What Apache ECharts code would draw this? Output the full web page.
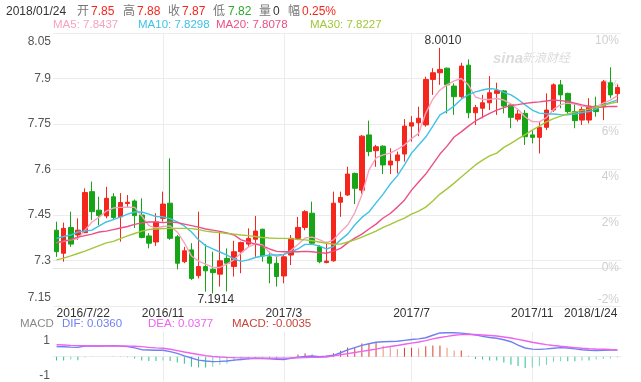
<!DOCTYPE html>
<html><head><meta charset="utf-8">
<script src="https://cdn.jsdelivr.net/npm/echarts@6/dist/echarts.min.js"></script>
<style>html,body{margin:0;padding:0;background:#fff}#c{width:641px;height:382px}</style>
</head><body><div id="c"></div>
<script>
const dates = [
'2016-07-22','2016-07-29','2016-08-05','2016-08-12','2016-08-19','2016-08-26','2016-09-02','2016-09-09','2016-09-16','2016-09-23',
'2016-09-30','2016-10-07','2016-10-14','2016-10-21','2016-10-28','2016-11-04','2016-11-11','2016-11-18','2016-11-25','2016-12-02',
'2016-12-09','2016-12-16','2016-12-23','2016-12-30','2017-01-06','2017-01-13','2017-01-20','2017-01-27','2017-02-03','2017-02-10',
'2017-02-17','2017-02-24','2017-03-03','2017-03-10','2017-03-17','2017-03-24','2017-03-31','2017-04-07','2017-04-14','2017-04-21',
'2017-04-28','2017-05-05','2017-05-12','2017-05-19','2017-05-26','2017-06-02','2017-06-09','2017-06-16','2017-06-23','2017-06-30',
'2017-07-07','2017-07-14','2017-07-21','2017-07-28','2017-08-04','2017-08-11','2017-08-18','2017-08-25','2017-09-01','2017-09-08',
'2017-09-15','2017-09-22','2017-09-29','2017-10-06','2017-10-13','2017-10-20','2017-10-27','2017-11-03','2017-11-10','2017-11-17',
'2017-11-24','2017-12-01','2017-12-08','2017-12-15','2017-12-22','2017-12-29','2018-01-05','2018-01-12','2018-01-19','2018-01-24'];
const monthStarts = ['2016-11-04','2017-03-03','2017-07-07','2017-11-03'];

const openP = [
7.400,7.324,7.409,7.384,7.392,7.527,7.466,7.447,7.510,7.444,
7.488,7.496,7.450,7.381,7.361,7.439,7.489,7.378,7.296,7.335,
7.250,7.280,7.271,7.255,7.307,7.280,7.329,7.354,7.370,7.403,
7.312,7.291,7.249,7.318,7.373,7.409,7.456,7.345,7.293,7.299,
7.492,7.516,7.587,7.532,7.714,7.662,7.677,7.615,7.629,7.651,
7.743,7.754,7.747,7.897,7.919,7.934,7.875,7.840,7.944,7.787,
7.802,7.820,7.851,7.859,7.813,7.766,7.785,7.714,7.706,7.739,
7.796,7.879,7.851,7.791,7.763,7.763,7.809,7.807,7.886,7.850];
const closeP = [
7.329,7.406,7.354,7.400,7.524,7.461,7.448,7.505,7.442,7.491,
7.492,7.448,7.376,7.357,7.427,7.486,7.373,7.291,7.332,7.241,
7.280,7.266,7.260,7.299,7.291,7.329,7.359,7.373,7.397,7.315,
7.291,7.247,7.312,7.373,7.409,7.461,7.357,7.296,7.298,7.489,
7.508,7.585,7.538,7.710,7.659,7.675,7.615,7.628,7.648,7.743,
7.754,7.769,7.897,7.919,7.930,7.879,7.840,7.941,7.787,7.804,
7.820,7.853,7.860,7.809,7.772,7.783,7.708,7.706,7.739,7.796,
7.879,7.846,7.791,7.761,7.798,7.809,7.791,7.889,7.846,7.870];
const highP = [
7.428,7.425,7.461,7.439,7.538,7.560,7.510,7.543,7.522,7.522,
7.516,7.501,7.505,7.390,7.456,7.527,7.637,7.384,7.345,7.357,
7.461,7.354,7.329,7.395,7.340,7.365,7.362,7.406,7.447,7.405,
7.329,7.312,7.318,7.384,7.444,7.466,7.494,7.351,7.362,7.527,
7.527,7.609,7.590,7.714,7.761,7.681,7.680,7.670,7.659,7.766,
7.776,7.807,7.906,7.934,8.001,7.936,7.884,7.952,7.963,7.813,
7.846,7.908,7.886,7.862,7.818,7.796,7.796,7.730,7.758,7.851,
7.884,7.895,7.853,7.818,7.807,7.835,7.840,7.895,7.937,7.880];
const lowP = [
7.312,7.296,7.345,7.368,7.390,7.433,7.417,7.439,7.433,7.362,
7.477,7.407,7.373,7.340,7.348,7.428,7.368,7.271,7.291,7.236,
7.241,7.197,7.1914,7.214,7.198,7.247,7.258,7.345,7.312,7.296,
7.225,7.214,7.225,7.285,7.368,7.400,7.351,7.291,7.291,7.296,
7.444,7.513,7.486,7.520,7.644,7.609,7.585,7.585,7.587,7.626,
7.692,7.710,7.741,7.846,7.879,7.785,7.780,7.835,7.769,7.747,
7.769,7.796,7.780,7.785,7.736,7.758,7.681,7.686,7.653,7.730,
7.790,7.802,7.780,7.736,7.747,7.752,7.774,7.763,7.835,7.820];

const ma5 = [
7.359,7.363,7.368,7.372,7.400,7.427,7.443,7.463,7.473,7.475,
7.476,7.475,7.447,7.415,7.407,7.412,7.414,7.394,7.358,7.315,
7.298,7.288,7.277,7.277,7.288,7.303,7.325,7.344,7.356,7.351,
7.326,7.313,7.320,7.333,7.353,7.374,7.377,7.369,7.358,7.368,
7.394,7.417,7.457,7.516,7.598,7.638,7.648,7.654,7.666,7.681,
7.702,7.719,7.786,7.832,7.862,7.879,7.892,7.900,7.879,7.839,
7.831,7.831,7.834,7.829,7.816,7.798,7.773,7.758,7.757,7.771,
7.798,7.814,7.819,7.816,7.809,7.807,7.807,7.819,7.829,7.8437];
const ma10 = [
7.373,7.379,7.384,7.394,7.397,7.400,7.414,7.427,7.435,7.443,
7.453,7.460,7.460,7.453,7.445,7.444,7.438,7.427,7.414,7.394,
7.368,7.349,7.338,7.328,7.318,7.305,7.297,7.302,7.310,7.315,
7.318,7.318,7.320,7.328,7.338,7.353,7.353,7.348,7.338,7.346,
7.368,7.387,7.417,7.442,7.460,7.490,7.519,7.552,7.579,7.615,
7.654,7.681,7.707,7.743,7.780,7.793,7.809,7.832,7.846,7.856,
7.862,7.867,7.864,7.854,7.846,7.831,7.813,7.796,7.786,7.784,
7.783,7.781,7.780,7.783,7.788,7.791,7.799,7.813,7.821,7.8298];
const ma20 = [
7.359,7.364,7.369,7.377,7.382,7.387,7.394,7.397,7.402,7.407,
7.412,7.419,7.424,7.427,7.427,7.425,7.427,7.425,7.420,7.415,
7.410,7.404,7.400,7.396,7.391,7.384,7.368,7.361,7.354,7.348,
7.338,7.330,7.329,7.329,7.329,7.330,7.329,7.326,7.324,7.331,
7.340,7.358,7.374,7.387,7.404,7.420,7.440,7.455,7.476,7.499,
7.532,7.559,7.585,7.618,7.651,7.677,7.707,7.724,7.743,7.760,
7.773,7.785,7.796,7.804,7.811,7.814,7.818,7.821,7.823,7.826,
7.829,7.827,7.824,7.819,7.813,7.808,7.805,7.806,7.808,7.8078];
const ma30 = [
7.302,7.308,7.315,7.323,7.331,7.340,7.349,7.358,7.363,7.372,
7.381,7.389,7.397,7.402,7.404,7.405,7.406,7.406,7.406,7.405,
7.402,7.397,7.394,7.392,7.389,7.387,7.384,7.382,7.379,7.376,
7.374,7.373,7.373,7.372,7.369,7.368,7.365,7.361,7.357,7.354,
7.354,7.361,7.368,7.377,7.387,7.397,7.409,7.419,7.430,7.440,
7.453,7.463,7.476,7.496,7.519,7.536,7.555,7.575,7.595,7.615,
7.631,7.645,7.654,7.673,7.686,7.701,7.715,7.730,7.743,7.757,
7.768,7.776,7.783,7.789,7.795,7.799,7.804,7.811,7.818,7.8227];

const dif = [
0.0557,0.0543,0.0524,0.0510,0.0589,0.0589,0.0589,0.0594,0.0603,0.0580,
0.0557,0.0487,0.0385,0.0371,0.0357,0.0357,0.0278,0.0186,0.0046,-0.0070,
-0.0186,-0.0232,-0.0264,-0.0255,-0.0232,-0.0186,-0.0153,-0.0116,-0.0079,-0.0093,
-0.0107,-0.0139,-0.0153,-0.0079,-0.0023,0.0014,0.0037,0.0005,0.0032,0.0079,
0.0218,0.0371,0.0496,0.0617,0.0710,0.0789,0.0820,0.0835,0.0849,0.0896,
0.0942,0.0974,0.1035,0.1174,0.1299,0.1313,0.1310,0.1290,0.1250,0.1190,
0.1110,0.1050,0.1007,0.0928,0.0820,0.0636,0.0478,0.0418,0.0404,0.0432,
0.0464,0.0496,0.0478,0.0432,0.0385,0.0357,0.0339,0.0357,0.0370,0.0360];
const dea = [
0.0660,0.0640,0.0620,0.0605,0.0600,0.0590,0.0590,0.0590,0.0595,0.0590,
0.0580,0.0570,0.0550,0.0510,0.0485,0.0464,0.0410,0.0335,0.0260,0.0190,
0.0125,0.0060,0.0014,-0.0010,-0.0032,-0.0050,-0.0060,-0.0070,-0.0079,-0.0080,
-0.0080,-0.0079,-0.0075,-0.0070,-0.0060,-0.0045,-0.0035,-0.0025,-0.0010,0.0046,
0.0107,0.0172,0.0232,0.0292,0.0357,0.0418,0.0496,0.0557,0.0617,0.0680,
0.0742,0.0803,0.0882,0.0974,0.1053,0.1110,0.1170,0.1205,0.1215,0.1210,
0.1190,0.1160,0.1130,0.1080,0.1020,0.0950,0.0870,0.0790,0.0720,0.0660,
0.0610,0.0570,0.0535,0.0500,0.0465,0.0440,0.0422,0.0410,0.0392,0.0377];
const macd = [
-0.0200,-0.0200,-0.0153,-0.0186,-0.0046,-0.0014,-0.0005,-0.0005,-0.0014,-0.0014,
-0.0023,-0.0093,-0.0200,-0.0232,-0.0232,-0.0200,-0.0232,-0.0311,-0.0385,-0.0543,
-0.0589,-0.0589,-0.0543,-0.0432,-0.0371,-0.0246,-0.0186,-0.0153,-0.0107,-0.0079,
-0.0079,-0.0093,-0.0060,-0.0023,0.0116,0.0186,0.0139,0.0046,0.0070,0.0186,
0.0325,0.0510,0.0510,0.0728,0.0728,0.0756,0.0603,0.0524,0.0418,0.0496,
0.0496,0.0464,0.0571,0.0617,0.0617,0.0496,0.0339,0.0339,0.0060,-0.0125,
-0.0153,-0.0200,-0.0200,-0.0311,-0.0432,-0.0510,-0.0617,-0.0589,-0.0510,-0.0432,
-0.0278,-0.0246,-0.0246,-0.0246,-0.0200,-0.0200,-0.0153,-0.0125,-0.0093,-0.0035];

const headerDate = '2018/01/24';
const headerNames = ['开','高','收','低','量','幅'];
const headerVals = ['7.85','7.88','7.87','7.82','0','0.25%'];
const maNames = ['MA5','MA10','MA20','MA30'];
const maLast = ['7.8437','7.8298','7.8078','7.8227'];
const macdNames = ['DIF','DEA','MACD'];
const macdLast = ['0.0360','0.0377','-0.0035'];
const pctLabelValues = [-1.67,0,2,4,6,8,10];
const macdLabelValues = [0.09,-0.105];

const FF = "'Liberation Sans', Arial, 'Noto Sans CJK SC', sans-serif";
const UP = '#f5261c', DOWN = '#17a517';
const maColors = ['#f7a3c0','#3fc2e6','#ec4f86','#a2c73a'];

const chart = echarts.init(document.getElementById('c'), null, {renderer:'canvas'});

function txt(x, y, text, color, size, extra) {
  return {type:'text', x:x, y:y, silent:true, z:100,
    style:Object.assign({text:text, fill:color, font:size+'px '+FF, textVerticalAlign:'middle', verticalAlign:'middle'}, extra||{})};
}
const graphics = [];
graphics.push(txt(6, 12, headerDate, '#333', 12));
const hdrNameX = [77,123,168,213,259,288];
const hdrValX = [91,137,182,228,273,302];
const hdrValColors = [UP, UP, UP, '#2ea82e', '#333', UP];
headerNames.forEach((n,i)=>{
  graphics.push(txt(hdrNameX[i], 12, n, '#777', 12));
  graphics.push(txt(hdrValX[i], 12, headerVals[i], hdrValColors[i], 12));
});
const maX = [53,138,216,310];
maNames.forEach((n,i)=>graphics.push(txt(maX[i], 25, n+': '+maLast[i], maColors[i], 11.5)));
graphics.push(txt(20, 324, 'MACD', '#888', 11.5));
const mX = [62,148,232];
const mC = ['#6f80f2','#ee62ee','#c8443a'];
macdNames.forEach((n,i)=>graphics.push(txt(mX[i], 324, n+': '+macdLast[i], mC[i], 11.5)));
graphics.push({type:'text', x:493, y:59, silent:true, z:0, style:{text:'sina', fill:'#dcdcdc', font:'italic bold 15px '+FF, textVerticalAlign:'middle', verticalAlign:'middle'}});
graphics.push({type:'text', x:522, y:59, silent:true, z:0, style:{text:'新浪财经', fill:'#dcdcdc', font:'italic 12px '+FF, textVerticalAlign:'middle', verticalAlign:'middle'}});

let hiIdx = 0, loIdx = 0;
highP.forEach((v,i)=>{ if (v > highP[hiIdx]) hiIdx = i; });
lowP.forEach((v,i)=>{ if (v < lowP[loIdx]) loIdx = i; });

const vLines = {silent:true, symbol:['none','none'], z:1, animation:false,
  label:{show:false}, lineStyle:{color:'#ececec', width:1, type:'solid'},
  data: monthStarts.map(d=>({xAxis:d}))};

const macdBars = macd.map((v,i)=>{
  const prev = i>0 ? macd[i-1] : v;
  let c;
  if (v >= 0) c = (v >= prev) ? '#d8412c' : '#ea917f';
  else c = (v <= prev) ? '#2cc08e' : '#6fd6b0';
  return {value:v, itemStyle:{color:c}};
});

function fmtDate(value) {
  const p = value.split('-');
  if (monthStarts.indexOf(value) >= 0) return p[0]+'/'+(+p[1]);
  return p[0]+'/'+(+p[1])+'/'+(+p[2]);
}

const option = {
  animation:false,
  textStyle:{fontFamily:FF},
  grid:[
    {left:53, right:20, top:33, height:273},
    {left:53, right:20, top:332, height:58}
  ],
  xAxis:[
    {type:'category', gridIndex:0, data:dates, boundaryGap:true,
      axisLine:{show:true, lineStyle:{color:'#e6e6e6'}}, axisTick:{show:false}, splitLine:{show:false},
      axisLabel:{show:true, color:'#333', fontSize:12, margin:2, fontFamily:FF,
        interval:function(i, v){ return i===0 || i===dates.length-1 || monthStarts.indexOf(v)>=0; },
        formatter:fmtDate, alignMinLabel:'left', alignMaxLabel:'right', showMinLabel:true, showMaxLabel:true}},
    {type:'category', gridIndex:1, data:dates, boundaryGap:true, position:'top',
      axisLine:{show:true, lineStyle:{color:'#ececec'}}, axisTick:{show:false}, axisLabel:{show:false}, splitLine:{show:false}}
  ],
  yAxis:[
    {type:'value', gridIndex:0, min:7.15, max:8.05, interval:0.15, position:'left',
      axisLine:{show:false}, axisTick:{show:false},
      splitLine:{show:true, lineStyle:{color:'#ececec'}},
      axisLabel:{color:'#555', fontSize:12, margin:2, fontFamily:FF, lineHeight:17,
        formatter:function(v){ return String(+v.toFixed(2)); },
        verticalAlignMaxLabel:'top', verticalAlignMinLabel:'bottom'}},
    {type:'value', gridIndex:0, min:-1.67, max:10.33, position:'right',
      axisLine:{show:false}, axisTick:{show:false}, splitLine:{show:false},
      axisLabel:{inside:true, color:'#cfcfcf', fontSize:12, margin:2, fontFamily:FF,
        customValues:pctLabelValues,
        formatter:function(v){ return (Math.round(v/2)*2)+'%'; },
        verticalAlignMinLabel:'bottom'}},
    {type:'value', gridIndex:1, min:-0.135, max:0.135, position:'left',
      axisLine:{show:false}, axisTick:{show:false}, splitLine:{show:false},
      axisLabel:{color:'#555', fontSize:12, margin:3, fontFamily:FF,
        customValues:macdLabelValues,
        formatter:function(v){ return v>0 ? '1' : '-1'; }}}
  ],
  graphic:graphics,
  series:[
    {type:'candlestick', name:'K', xAxisIndex:0, yAxisIndex:0, z:2, barWidth:5,
      data: dates.map((d,i)=>[openP[i], closeP[i], lowP[i], highP[i]]),
      itemStyle:{color:UP, color0:DOWN, borderColor:UP, borderColor0:DOWN, borderWidth:1},
      markLine:vLines,
      markPoint:{silent:true, symbol:'circle', symbolSize:1, itemStyle:{color:'rgba(0,0,0,0)'}, z:10,
        label:{show:true, color:'#333', fontSize:12, fontFamily:FF},
        data:[
          {coord:[dates[hiIdx], highP[hiIdx]], label:{position:'top', distance:1, offset:[3,0], formatter:highP[hiIdx].toFixed(4)}},
          {coord:[dates[loIdx], lowP[loIdx]], label:{position:'bottom', distance:0, offset:[3,0], formatter:lowP[loIdx].toFixed(4)}}
        ]}},
    {type:'line', name:'MA5', data:ma5, xAxisIndex:0, yAxisIndex:0, symbol:'none', silent:true, z:3, lineStyle:{width:1.4, color:maColors[0]}},
    {type:'line', name:'MA10', data:ma10, xAxisIndex:0, yAxisIndex:0, symbol:'none', silent:true, z:3, lineStyle:{width:1.4, color:maColors[1]}},
    {type:'line', name:'MA20', data:ma20, xAxisIndex:0, yAxisIndex:0, symbol:'none', silent:true, z:3, lineStyle:{width:1.4, color:maColors[2]}},
    {type:'line', name:'MA30', data:ma30, xAxisIndex:0, yAxisIndex:0, symbol:'none', silent:true, z:3, lineStyle:{width:1.4, color:maColors[3]}},
    {type:'bar', name:'MACD', data:macdBars, xAxisIndex:1, yAxisIndex:2, barWidth:1, silent:true, z:2, markLine:vLines},
    {type:'line', name:'DIF', data:dif, xAxisIndex:1, yAxisIndex:2, symbol:'none', silent:true, z:3, lineStyle:{width:1.4, color:'#6f80f2'}},
    {type:'line', name:'DEA', data:dea, xAxisIndex:1, yAxisIndex:2, symbol:'none', silent:true, z:3, lineStyle:{width:1.4, color:'#ee62ee'}}
  ]
};
chart.setOption(option);
</script>
</body></html>
